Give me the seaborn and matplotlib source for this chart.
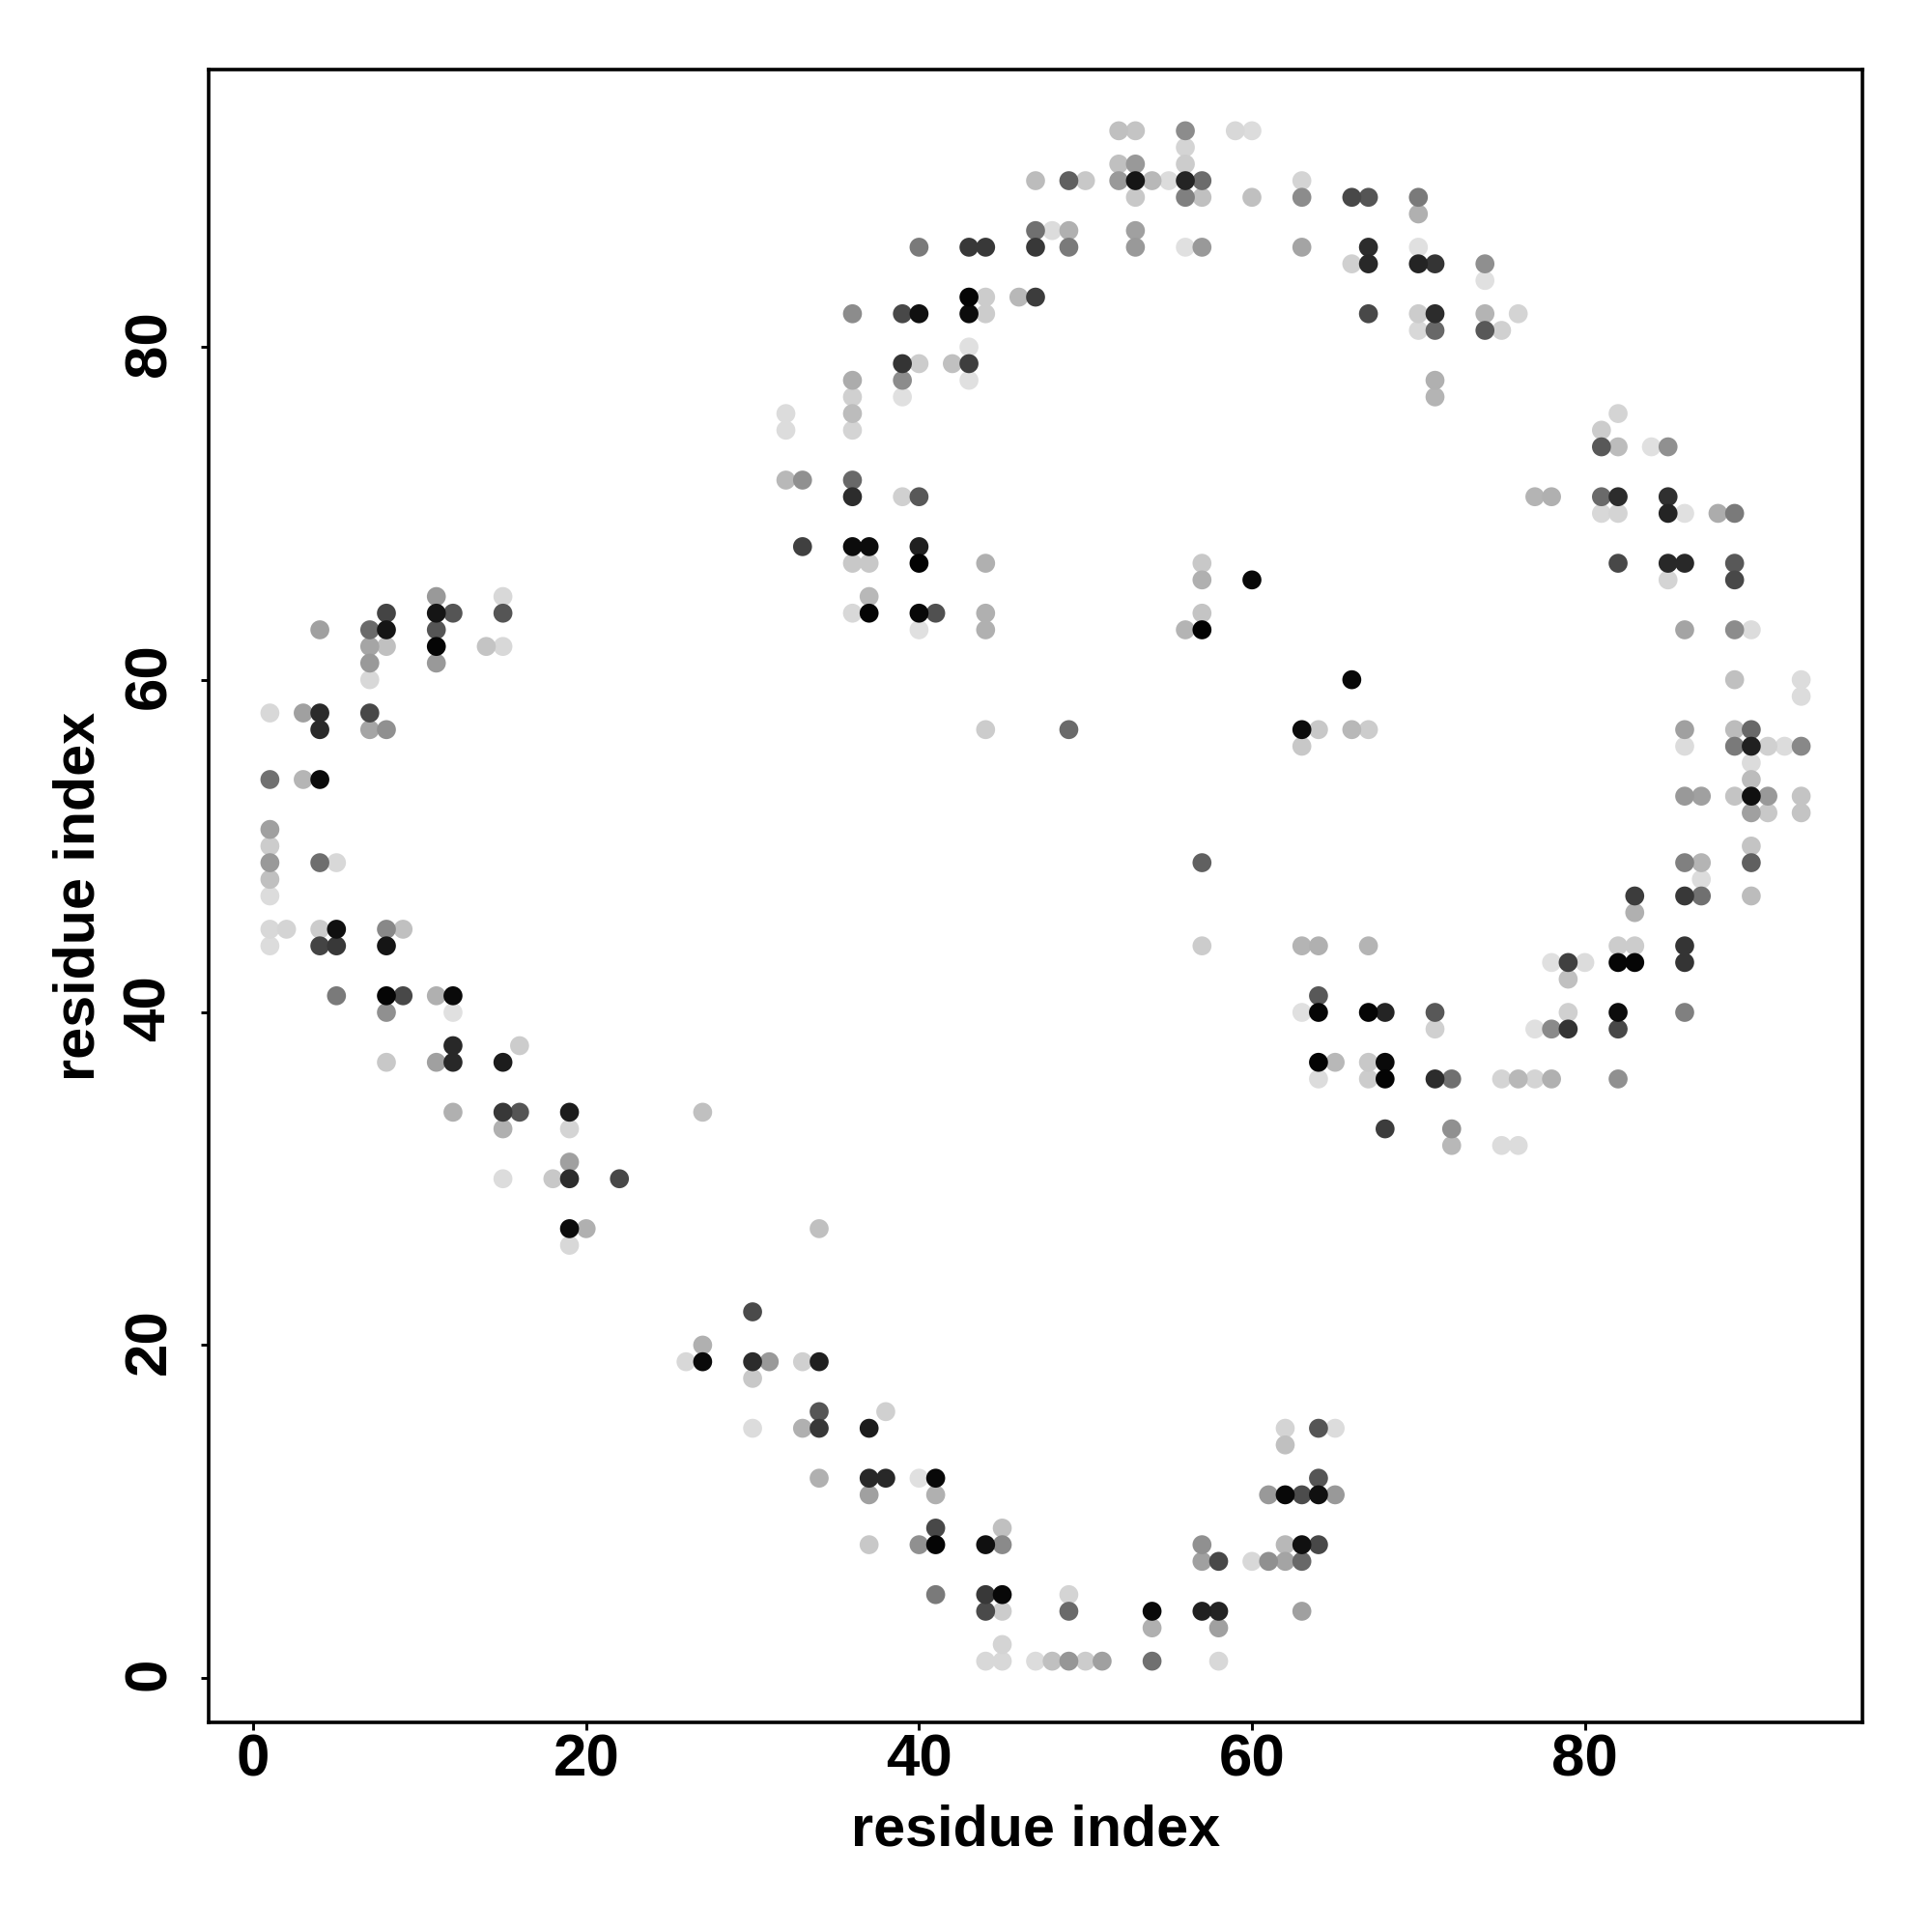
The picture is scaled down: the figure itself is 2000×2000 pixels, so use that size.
import matplotlib
matplotlib.use('Agg')
import matplotlib.pyplot as plt
from matplotlib.transforms import ScaledTranslation
import pandas as pd
import seaborn as sns

# contact map points, one line per residue row from top to bottom
res_x = [
    52, 53, 56, 59, 60,
    56,
    52, 53, 56,
    47, 49, 50, 52, 53, 54, 55, 56, 57, 63,
    53, 56, 57, 60, 63, 66, 67, 70,
    70,
    47, 48, 49, 53,
    40, 43, 44, 47, 49, 53, 56, 57, 63, 67, 70,
    66, 67, 70, 71, 74,
    74,
    43, 44, 46, 47,
    36, 39, 40, 43, 44, 67, 70, 71, 74, 76,
    70, 71, 74, 75,
    43,
    39, 40, 42, 43,
    36, 39, 43, 71,
    36, 39, 71,
    32, 36, 82,
    32, 36, 81,
    81, 82, 84, 85,
    32, 33, 36,
    36, 39, 40, 77, 78, 81, 82, 85,
    81, 82, 85, 86, 88, 89,
    33, 36, 37, 40,
    36, 37, 40, 44, 57, 82, 85, 86, 89,
    57, 60, 85, 89,
    11, 15, 37,
    8, 11, 12, 15, 36, 37, 40, 41, 44, 57,
    4, 7, 8, 11, 40, 44, 56, 57, 86, 89, 90,
    7, 8, 11, 14, 15,
    7, 11,
    7, 66, 89, 93,
    93,
    1, 3, 4, 7,
    4, 7, 8, 44, 49, 63, 64, 66, 67, 86, 89, 90,
    63, 86, 89, 90, 91, 92, 93,
    90,
    1, 3, 4, 90,
    86, 87, 89, 90, 91, 93,
    90, 91, 93,
    1,
    1, 90,
    1, 4, 5, 57, 86, 87, 90,
    1, 87,
    1, 83, 86, 87, 90,
    83,
    1, 2, 4, 5, 8, 9,
    1, 4, 5, 8, 57, 63, 64, 67, 82, 83, 86,
    78, 79, 80, 82, 83, 86,
    79,
    5, 8, 9, 11, 12, 64,
    8, 12, 63, 64, 67, 68, 71, 79, 82, 86,
    71, 77, 78, 79, 82,
    12, 16,
    8, 11, 12, 15, 64, 65, 67, 68,
    64, 67, 68, 71, 72, 75, 76, 77, 78, 82,
    12, 15, 16, 19, 27,
    15, 19, 68, 72,
    72, 75, 76,
    19,
    15, 18, 19, 22,
    19, 20, 34,
    19,
    30,
    27,
    26, 27, 30, 31, 33, 34,
    30,
    34, 38,
    30, 33, 34, 37, 62, 64, 65,
    62,
    34, 37, 38, 40, 41, 64,
    37, 41, 61, 62, 63, 64, 65,
    41, 45,
    37, 40, 41, 44, 45, 57, 62, 63, 64,
    57, 58, 60, 61, 62, 63,
    41, 44, 45, 49,
    44, 45, 49, 54, 57, 58, 63,
    54, 58,
    45,
    44, 45, 47, 48, 49, 50, 51, 54, 58,
]
res_y = [
    93, 93, 93, 93, 93,
    92,
    91, 91, 91,
    90, 90, 90, 90, 90, 90, 90, 90, 90, 90,
    89, 89, 89, 89, 89, 89, 89, 89,
    88,
    87, 87, 87, 87,
    86, 86, 86, 86, 86, 86, 86, 86, 86, 86, 86,
    85, 85, 85, 85, 85,
    84,
    83, 83, 83, 83,
    82, 82, 82, 82, 82, 82, 82, 82, 82, 82,
    81, 81, 81, 81,
    80,
    79, 79, 79, 79,
    78, 78, 78, 78,
    77, 77, 77,
    76, 76, 76,
    75, 75, 75,
    74, 74, 74, 74,
    72, 72, 72,
    71, 71, 71, 71, 71, 71, 71, 71,
    70, 70, 70, 70, 70, 70,
    68, 68, 68, 68,
    67, 67, 67, 67, 67, 67, 67, 67, 67,
    66, 66, 66, 66,
    65, 65, 65,
    64, 64, 64, 64, 64, 64, 64, 64, 64, 64,
    63, 63, 63, 63, 63, 63, 63, 63, 63, 63, 63,
    62, 62, 62, 62, 62,
    61, 61,
    60, 60, 60, 60,
    59,
    58, 58, 58, 58,
    57, 57, 57, 57, 57, 57, 57, 57, 57, 57, 57, 57,
    56, 56, 56, 56, 56, 56, 56,
    55,
    54, 54, 54, 54,
    53, 53, 53, 53, 53, 53,
    52, 52, 52,
    51,
    50, 50,
    49, 49, 49, 49, 49, 49, 49,
    48, 48,
    47, 47, 47, 47, 47,
    46,
    45, 45, 45, 45, 45, 45,
    44, 44, 44, 44, 44, 44, 44, 44, 44, 44, 44,
    43, 43, 43, 43, 43, 43,
    42,
    41, 41, 41, 41, 41, 41,
    40, 40, 40, 40, 40, 40, 40, 40, 40, 40,
    39, 39, 39, 39, 39,
    38, 38,
    37, 37, 37, 37, 37, 37, 37, 37,
    36, 36, 36, 36, 36, 36, 36, 36, 36, 36,
    34, 34, 34, 34, 34,
    33, 33, 33, 33,
    32, 32, 32,
    31,
    30, 30, 30, 30,
    27, 27, 27,
    26,
    22,
    20,
    19, 19, 19, 19, 19, 19,
    18,
    16, 16,
    15, 15, 15, 15, 15, 15, 15,
    14,
    12, 12, 12, 12, 12, 12,
    11, 11, 11, 11, 11, 11, 11,
    9, 9,
    8, 8, 8, 8, 8, 8, 8, 8, 8,
    7, 7, 7, 7, 7, 7,
    5, 5, 5, 5,
    4, 4, 4, 4, 4, 4, 4,
    3, 3,
    2,
    1, 1, 1, 1, 1, 1, 1, 1, 1,
]
# grey level of each point, 0 black to 255 white
shade = [
    0xc0, 0xc4, 0x8c, 0xd8, 0xdc,
    0xd4,
    0xc0, 0x99, 0xcc,
    0xbc, 0x60, 0xc8, 0x99, 0x15, 0xb8, 0xdc, 0x24, 0x6c, 0xd4,
    0xc8, 0x80, 0xc0, 0xc0, 0x8c, 0x48, 0x55, 0x7a,
    0xb0,
    0x70, 0xdc, 0xb0, 0xa0,
    0x7a, 0x38, 0x38, 0x38, 0x7a, 0x99, 0xe0, 0x99, 0xa4, 0x2c, 0xe0,
    0xd0, 0x28, 0x24, 0x34, 0x8f,
    0xe0,
    0x05, 0xcc, 0xb8, 0x3c,
    0x8c, 0x48, 0x10, 0x0c, 0xcc, 0x48, 0xcc, 0x2c, 0xb4, 0xd4,
    0xd8, 0x68, 0x58, 0xd0,
    0xe0,
    0x34, 0xcc, 0xc0, 0x3e,
    0xac, 0x8c, 0xe0, 0xb0,
    0xd0, 0xe0, 0xb4,
    0xdc, 0xbc, 0xd4,
    0xdc, 0xd4, 0xcc,
    0x58, 0xbc, 0xe0, 0x90,
    0xb8, 0x90, 0x68,
    0x2c, 0xd0, 0x58, 0xb4, 0xb0, 0x6a, 0x2c, 0x30,
    0xd8, 0xd4, 0x24, 0xe0, 0xac, 0x7a,
    0x40, 0x0c, 0x0c, 0x20,
    0xc8, 0xc8, 0x02, 0xb0, 0xc8, 0x48, 0x28, 0x28, 0x58,
    0xb0, 0x08, 0xd4, 0x48,
    0x99, 0xd8, 0xb8,
    0x44, 0x15, 0x55, 0x55, 0xd8, 0x04, 0x08, 0x50, 0xb0, 0xc4,
    0xa0, 0x6a, 0x15, 0x55, 0xe0, 0xb0, 0xb4, 0x02, 0xa4, 0x8c, 0xdc,
    0xa5, 0xc0, 0x05, 0xc4, 0xd8,
    0x99, 0x99,
    0xd8, 0x08, 0xc0, 0xdc,
    0xdc,
    0xd8, 0xa0, 0x2a, 0x48,
    0x2a, 0xa5, 0x90, 0xcc, 0x6a, 0x0c, 0xc8, 0xb8, 0xcc, 0xa0, 0xbc, 0x68,
    0xc8, 0xdc, 0x7a, 0x20, 0xd0, 0xdc, 0x88,
    0xdc,
    0x70, 0xb5, 0x0a, 0xbc,
    0x99, 0xa0, 0xc4, 0x10, 0x99, 0xc4,
    0xa0, 0xc8, 0xc4,
    0xa0,
    0xcc, 0xc4,
    0x99, 0x6e, 0xd8, 0x60, 0x80, 0xb4, 0x60,
    0xc0, 0xdc,
    0xdc, 0x3c, 0x38, 0x70, 0xbc,
    0xb0,
    0xd8, 0xd4, 0xcc, 0x10, 0x88, 0xc0,
    0xdc, 0x44, 0x38, 0x15, 0xcc, 0xb4, 0xb0, 0xb4, 0xcc, 0xcc, 0x34,
    0xe0, 0x40, 0xdc, 0x05, 0x05, 0x34,
    0xc0,
    0x7a, 0x05, 0x48, 0xb0, 0x0a, 0x58,
    0x90, 0xe0, 0xe0, 0x05, 0x05, 0x24, 0x58, 0xd0, 0x0c, 0x80,
    0xd0, 0xe0, 0x8a, 0x34, 0x48,
    0x28, 0xcc,
    0xc8, 0xa0, 0x28, 0x1c, 0x04, 0xb8, 0xc8, 0x0a,
    0xdc, 0xcc, 0x04, 0x2c, 0x70, 0xd4, 0xb8, 0xd4, 0xb0, 0x90,
    0xb0, 0x38, 0x55, 0x1c, 0xc0,
    0xb0, 0xd4, 0x3c, 0x90,
    0xb8, 0xdc, 0xdc,
    0xa0,
    0xdc, 0xc8, 0x2c, 0x48,
    0x0c, 0xb0, 0xc0,
    0xd8,
    0x4a,
    0xb0,
    0xd8, 0x0a, 0x2c, 0x99, 0xd0, 0x20,
    0xc8,
    0x55, 0xd0,
    0xdc, 0xb0, 0x38, 0x1c, 0xd4, 0x55, 0xdc,
    0xc0,
    0xb0, 0x28, 0x28, 0xe0, 0x08, 0x55,
    0xa0, 0xb0, 0x99, 0x08, 0x4c, 0x10, 0x99,
    0x48, 0xc0,
    0xc8, 0x90, 0x05, 0x10, 0x8a, 0x90, 0xb8, 0x10, 0x48,
    0xa0, 0x48, 0xd8, 0x90, 0xa4, 0x68,
    0x7a, 0x38, 0x08, 0xd4,
    0x4a, 0xcc, 0x6a, 0x0a, 0x20, 0x24, 0xa0,
    0xb0, 0xa0,
    0xd4,
    0xd8, 0xd8, 0xdc, 0xc0, 0x96, 0xcc, 0xa0, 0x70, 0xd8,
]
tick_values = [0, 20, 40, 60, 80]

sns.set_theme(style='ticks')
plt.rcParams['font.family'] = ['Liberation Sans', 'DejaVu Sans']

# darker points are drawn last so they sit on top of the lighter ones
contacts = pd.DataFrame({'x': res_x, 'y': res_y, 'shade': shade})
contacts = contacts.sort_values('shade', ascending=False)

fig = plt.figure(figsize=(10, 10), dpi=200)
ax = fig.add_axes([0.108, 0.1085, 0.856, 0.8555])

sns.scatterplot(data=contacts, x='x', y='y', hue='shade', palette='gray',
                hue_norm=(0, 255), s=50, linewidth=0, legend=False, ax=ax)

ax.set_xlim(-2.68, 96.68)
ax.set_ylim(-2.68, 96.68)
ax.set_xticks(tick_values)
ax.set_yticks(tick_values)
ax.tick_params(axis='both', length=3, width=1.05, color='black', labelsize=22.3,
               labelcolor='black')
ax.tick_params(axis='x', pad=1.3)
ax.tick_params(axis='y', pad=8.5)
for lab in ax.get_xticklabels():
    lab.set_fontweight('bold')
# rotated labels sit a little low, nudge them back onto their ticks
nudge = ScaledTranslation(0, 4 / 200, fig.dpi_scale_trans)
for lab in ax.get_yticklabels():
    lab.set_fontweight('bold')
    lab.set_rotation(90)
    lab.set_verticalalignment('center')
    lab.set_transform(lab.get_transform() + nudge)

ax.set_xlabel('residue index', fontsize=21.4, fontweight='bold', color='black', labelpad=5.7)
ax.set_ylabel('residue index', fontsize=21.4, fontweight='bold', color='black', labelpad=6.4)
for side in ax.spines.values():
    side.set_linewidth(1.3)
    side.set_color('black')

plt.savefig('out.png')
plt.close()
